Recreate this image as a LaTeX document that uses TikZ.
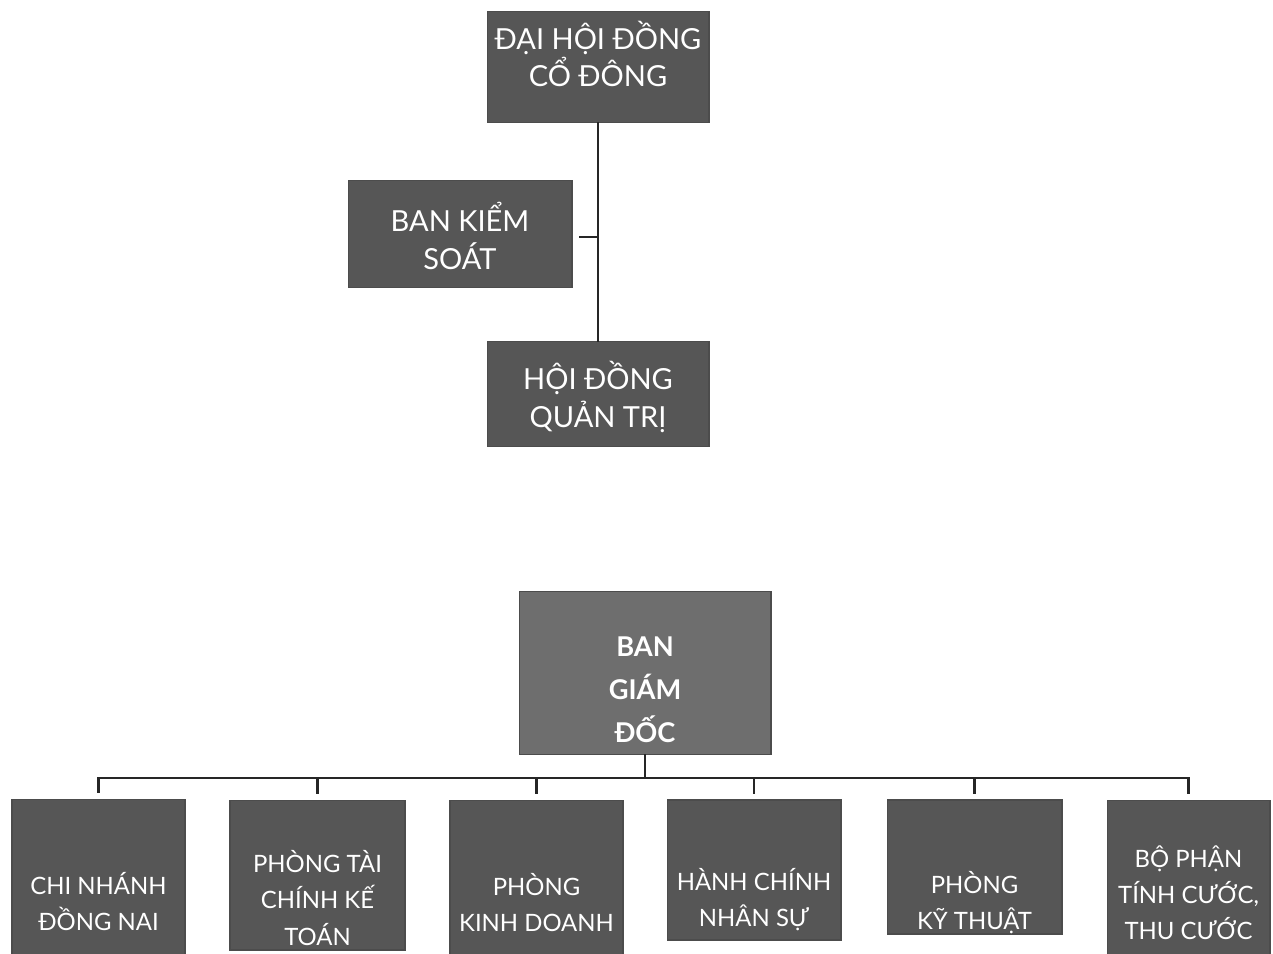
\documentclass[tikz,border=0pt]{standalone}
\usepackage{fontspec}
\setmainfont{Lato}
\definecolor{boxgray}{RGB}{86,86,86}
\definecolor{bossgray}{RGB}{110,110,110}
\begin{document}
\begin{tikzpicture}[x=0.02cm, y=-0.02cm,
    unit/.style={draw=black!70, line width=0.6pt, fill=boxgray, inner sep=0pt},
    lbl/.style={text=white, align=center, inner sep=0pt, font=\fontsize{16.5}{21.5}\selectfont},
    sublbl/.style={lbl, font=\fontsize{13.6}{20.5}\selectfont},
    conn/.style={line width=1.5pt, black!85, line cap=rect}]
    \useasboundingbox (0,0) rectangle (1273,953);
    \clip (0,0) rectangle (1273,953);
    % upper part: shareholders, control board, board of management
    \node[unit, minimum width=4.44cm, minimum height=2.22cm] (dhcd) at (598,67) {};
    \node[unit, minimum width=4.48cm, minimum height=2.14cm] (bks) at (460,234) {};
    \node[unit, minimum width=4.44cm, minimum height=2.10cm] (hdqt) at (598,394) {};
    \node[lbl] (dhcd-t) at (598,54) {ĐẠI HỘI ĐỒNG\\CỔ ĐÔNG};
    \node[lbl] (bks-t) at (460,236) {BAN KIỂM\\SOÁT};
    \node[lbl] (hdqt-t) at (598,397) {HỘI ĐỒNG\\QUẢN TRỊ};
    \draw[conn] (dhcd.south) -- (hdqt.north);
    \draw[conn, shorten <=0.16cm] ([yshift=-0.06cm]bks.east) -- ([yshift=-0.06cm]bks.east -| dhcd.south);
    % lower part: directors and departments
    \node[unit, fill=bossgray, minimum width=5.04cm, minimum height=3.26cm] (bgd) at (645,673) {};
    \node[lbl, font=\bfseries\fontsize{15.5}{24.5}\selectfont] (bgd-t) at (645,690) {BAN\\GIÁM\\ĐỐC};
    \node[unit, minimum width=3.46cm, minimum height=4.02cm] (cn) at (98.5,900) {};
    \node[unit, minimum width=3.50cm, minimum height=3.00cm] (tckt) at (317.5,875) {};
    \node[unit, minimum width=3.46cm, minimum height=4.00cm] (kd) at (536.5,900) {};
    \node[unit, minimum width=3.48cm, minimum height=2.80cm] (hcns) at (754,870) {};
    \node[unit, minimum width=3.50cm, minimum height=2.68cm] (kt) at (974.5,867) {};
    \node[unit, minimum width=3.26cm, minimum height=4.00cm] (tc) at (1188.5,900) {};
    \node[sublbl] (cn-t) at (98.5,902) {CHI NHÁNH\\ĐỒNG NAI};
    \node[sublbl] (tckt-t) at (317.5,898) {PHÒNG TÀI\\CHÍNH KẾ\\TOÁN};
    \node[sublbl] (kd-t) at (536.5,903) {PHÒNG\\KINH DOANH};
    \node[sublbl] (hcns-t) at (754,900) {HÀNH CHÍNH\\NHÂN SỰ};
    \node[sublbl] (kt-t) at (974.5,903) {PHÒNG\\KỸ THUẬT};
    \node[sublbl] (tc-t) at (1188.5,893) {BỘ PHẬN\\TÍNH CƯỚC,\\THU CƯỚC};
    \coordinate (bus) at (645,778);
    \draw[conn] (bgd.south) -- (bus);
    \draw[conn] (bus -| cn.north) -- (bus -| tc.north);
    \foreach \u in {cn,tckt,kd,hcns,kt,tc}
        \draw[conn, shorten >=0.14cm] (bus -| \u.north) -- (\u.north);
\end{tikzpicture}
\end{document}
